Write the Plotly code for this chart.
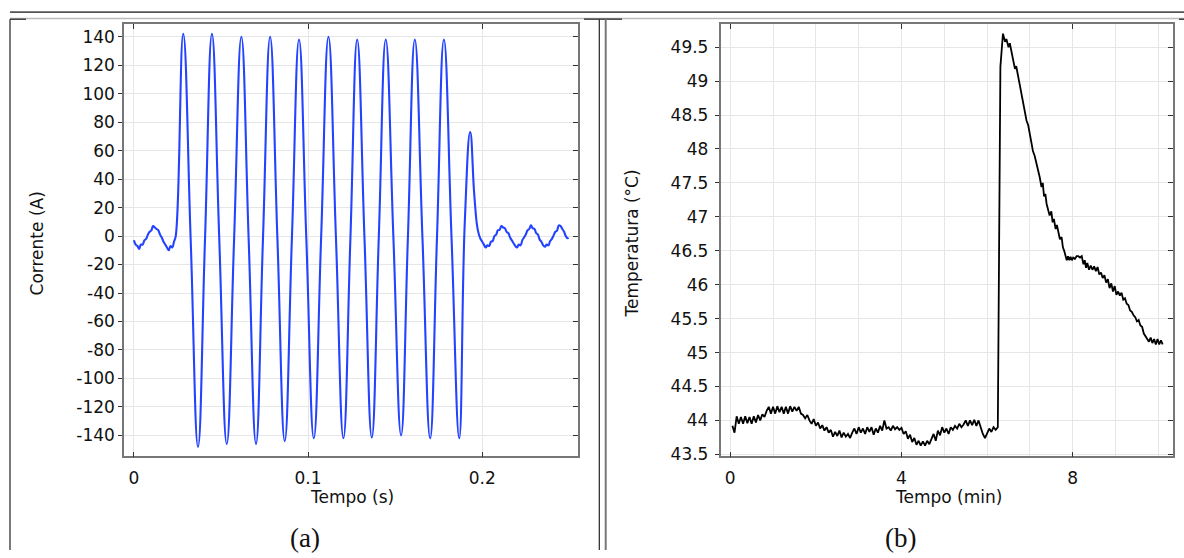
import plotly.graph_objects as go

W, H = 1184, 558

# ---------------- (a) current ----------------
cur_t = [0.000, 0.001, 0.002, 0.003, 0.004, 0.005, 0.006, 0.007, 0.008, 0.009, 0.010, 0.011,
         0.012, 0.013, 0.014, 0.015, 0.016, 0.017, 0.018, 0.019, 0.020, 0.021, 0.022, 0.023,
         0.0240,
         0.0283, 0.0326, 0.0368, 0.0408, 0.0448, 0.0490, 0.0533, 0.0575, 0.0617, 0.0659, 0.0701,
         0.0741, 0.0782, 0.0824, 0.0866, 0.0907, 0.0948, 0.0990, 0.1033, 0.1075, 0.1117, 0.1160,
         0.1203, 0.1243, 0.1282, 0.1324, 0.1366, 0.1406, 0.1446, 0.1490, 0.1534, 0.1573, 0.1613,
         0.1657, 0.1701, 0.1740, 0.1780, 0.1824, 0.1868, 0.1900, 0.1931, 0.1955, 0.1975,
         0.199, 0.200, 0.201, 0.202, 0.203, 0.204, 0.205, 0.206, 0.207, 0.208, 0.209, 0.210,
         0.211, 0.212, 0.213, 0.214, 0.215, 0.216, 0.217, 0.218, 0.219, 0.220, 0.221, 0.222,
         0.223, 0.224, 0.225, 0.226, 0.227, 0.228, 0.229, 0.230, 0.231, 0.232, 0.233, 0.234,
         0.235, 0.236, 0.237, 0.238, 0.239, 0.240, 0.241, 0.242, 0.243, 0.244, 0.245, 0.246,
         0.247, 0.248, 0.249, 0.2496]
cur_v = [-3, -6, -7, -9, -6, -6, -3, -2, 1, 3, 4, 7,
         6, 5, 4, 1, -1, -4, -6, -8, -10, -7, -8, -4,
         0,
         142, -3, -148, -3, 142, -2, -146, -3, 140, -3, -146,
         -2, 140, -2, -144, -2, 138, -2, -142, -1, 140, -1,
         -142, -2, 138, -2, -141.5, -1, 138, -1, -140, -2, 138,
         -2, -142, -2, 138, -2, -142, 10, 73, 28, 4,
         -2, -4, -6, -8, -6.5, -7, -4, -3.5, 0, 1, 4, 4.5,
         7, 6, 5.5, 3, 2, -1, -3, -5, -7, -8, -6, -6.5,
         -3, -1, 1, 4, 5, 7.5, 5.5, 5, 2, 1, -2.5, -4,
         -6.5, -7.5, -6, -6.5, -3.5, -2, 0.5, 3, 4, 7.5, 7, 5,
         3, 0, -1.5, -1.2]

cur_tickvals = [140, 120, 100, 80, 60, 40, 20, 0, -20, -40, -60, -80, -100, -120, -140]
cur_ticktext = ["140", "120", "100", "80", "60", "40", "20", "0", "-20", "-40", "-60", "-80",
                "-100", "-120", "-140"]

# ---------------- (b) temperature ----------------
base_v = [43.92, 43.82, 44.06, 43.95, 44.05, 43.95, 44.06, 43.96, 44.05, 43.95,
          44.06, 43.97, 44.08, 44.00, 44.09, 44.05, 44.14, 44.20, 44.10, 44.20,
          44.10, 44.21, 44.12, 44.20, 44.10, 44.20, 44.10, 44.21, 44.13, 44.20,
          44.14, 44.20, 44.10, 44.08, 44.03, 44.08, 44.00, 43.95, 44.02, 43.92,
          43.97, 43.88, 43.93, 43.85, 43.90, 43.82, 43.86, 43.76, 43.83, 43.77,
          43.85, 43.75, 43.82, 43.76, 43.80, 43.74, 43.82, 43.88, 43.80, 43.90,
          43.82, 43.88, 43.80, 43.90, 43.83, 43.90, 43.79, 43.88, 43.82, 43.92,
          43.85, 44.00, 43.88, 43.90, 43.85, 43.92, 43.87, 43.90, 43.86, 43.89,
          43.80, 43.84, 43.73, 43.79, 43.68, 43.74, 43.64, 43.70, 43.63, 43.69,
          43.63, 43.70, 43.65, 43.72, 43.80, 43.70, 43.85, 43.78, 43.90, 43.82,
          43.88, 43.80, 43.90, 43.86, 43.92, 43.88, 43.95, 43.90, 43.94, 44.00,
          43.92, 44.00, 43.93, 44.01, 43.92, 44.00, 43.90, 43.80, 43.74, 43.82,
          43.88, 43.83, 43.90, 43.86, 43.90]
base_t = [round(0.05 * (i + 1), 2) for i in range(len(base_v))]

decay_t = [6.31, 6.37, 6.42, 6.45, 6.50, 6.53, 6.58, 6.62, 6.65, 6.68, 6.72, 6.76, 6.80, 6.84,
           6.88, 6.92, 6.96, 7.00, 7.04, 7.07, 7.11, 7.15, 7.19, 7.23, 7.27, 7.30, 7.33, 7.36,
           7.39, 7.43, 7.46, 7.50, 7.53, 7.56, 7.60, 7.63, 7.67, 7.70, 7.74, 7.77, 7.80, 7.83,
           7.86, 7.89, 7.92, 7.95, 7.98, 8.01, 8.05, 8.09, 8.13, 8.17, 8.21, 8.25, 8.28, 8.31,
           8.34, 8.38, 8.42, 8.46, 8.50, 8.54, 8.58, 8.62, 8.66, 8.70, 8.74, 8.78, 8.82, 8.86,
           8.90, 8.94, 8.98, 9.02, 9.06, 9.10, 9.14, 9.18, 9.22, 9.26, 9.30, 9.34, 9.38, 9.42,
           9.46, 9.50, 9.54, 9.58, 9.62, 9.66, 9.70, 9.74, 9.78, 9.82, 9.86, 9.90, 9.94, 9.98,
           10.02, 10.06, 10.10]
decay_v = [49.21, 49.70, 49.58, 49.62, 49.50, 49.56, 49.40, 49.30, 49.18, 49.22, 49.09, 48.98,
           48.85, 48.70, 48.58, 48.42, 48.35, 48.21, 48.10, 47.97, 47.90, 47.80, 47.70, 47.58,
           47.44, 47.50, 47.30, 47.34, 47.19, 47.10, 47.02, 47.08, 46.92, 46.97, 46.82, 46.88,
           46.74, 46.67, 46.70, 46.55, 46.50, 46.42, 46.36, 46.42, 46.36, 46.41, 46.36, 46.40,
           46.38, 46.42, 46.42, 46.40, 46.42, 46.30, 46.36, 46.25, 46.32, 46.22, 46.28, 46.22,
           46.27, 46.20, 46.26, 46.15, 46.18, 46.10, 46.14, 46.03, 46.08, 45.95, 46.02, 45.90,
           45.98, 45.85, 45.90, 45.84, 45.88, 45.78, 45.80, 45.72, 45.70, 45.62, 45.60, 45.55,
           45.52, 45.46, 45.48, 45.40, 45.38, 45.28, 45.24, 45.22, 45.16, 45.22, 45.14, 45.20,
           45.12, 45.20, 45.12, 45.18, 45.12]

temp_t = base_t + decay_t
temp_v = base_v + decay_v

# ---------------- layout helpers ----------------
def px(x):
    return x / W

def py(y):
    return 1 - y / H

FONT = "DejaVu Sans"
AXC = "#777777"
TICKC = "#333333"
GRIDC = "#e6e6e6"

xa_dom = [px(124), px(578)]
xb_dom = [px(720.6), px(1172.5)]
y_dom = [py(463), py(24.5)]

xa_rng = [-0.0057, 0.255]
ya_rng = [-154.7, 148.8]
xb_rng = [-0.225, 10.33]
yb_rng = [43.47, 49.84]

fig = go.Figure()
fig.add_trace(go.Scatter(x=cur_t, y=cur_v, mode="lines", xaxis="x", yaxis="y",
                         line=dict(color="#2343ff", width=2.1, shape="spline", smoothing=1.3),
                         hoverinfo="skip", showlegend=False))
fig.add_trace(go.Scatter(x=temp_t, y=temp_v, mode="lines", xaxis="x2", yaxis="y2",
                         line=dict(color="#000000", width=1.8),
                         hoverinfo="skip", showlegend=False))
# carriers for mirrored (inside) tick axes
for xa, ya in (("x3", "y3"), ("x4", "y4")):
    fig.add_trace(go.Scatter(x=[None], y=[None], xaxis=xa, yaxis=ya, mode="lines",
                             hoverinfo="skip", showlegend=False))

tickfont = dict(family=FONT, size=17, color="#111111")

common_x = dict(showline=True, linecolor=AXC, linewidth=1.5, mirror=True, ticks="inside",
                ticklen=5, tickcolor=TICKC, tickwidth=1.2, tickfont=tickfont,
                ticklabelstandoff=5,
                showgrid=True, gridcolor=GRIDC, gridwidth=1, zeroline=False, fixedrange=True)
common_y = dict(showline=True, linecolor=AXC, linewidth=1.5, mirror=True, ticks="outside",
                ticklen=4, tickcolor=TICKC, tickwidth=1.2, tickfont=tickfont,
                showgrid=True, gridcolor=GRIDC, gridwidth=1, zeroline=False, fixedrange=True)
over = dict(showline=False, ticks="inside", ticklen=5, tickcolor=TICKC, tickwidth=1.2,
            showticklabels=False, showgrid=False, zeroline=False, fixedrange=True)

fig.update_layout(
    width=W, height=H, margin=dict(l=0, r=0, t=0, b=0),
    paper_bgcolor="white", plot_bgcolor="white",
    xaxis=dict(common_x, domain=xa_dom, range=xa_rng, anchor="y", tickmode="linear",
               tick0=0, dtick=0.1),
    yaxis=dict(common_y, domain=y_dom, range=ya_rng, anchor="x", tickmode="array",
               tickvals=cur_tickvals, ticktext=cur_ticktext),
    xaxis3=dict(over, overlaying="x", anchor="y", side="top", range=xa_rng,
                tickmode="linear", tick0=0, dtick=0.1),
    yaxis3=dict(over, overlaying="y", anchor="x", side="right", range=ya_rng,
                tickmode="array", tickvals=cur_tickvals),
    xaxis2=dict(common_x, domain=xb_dom, range=xb_rng, anchor="y2", tickmode="linear",
                tick0=0, dtick=4,
                minor=dict(tickmode="linear", tick0=0, dtick=1, showgrid=True,
                           gridcolor=GRIDC, gridwidth=1, ticks="")),
    yaxis2=dict(common_y, domain=y_dom, range=yb_rng, anchor="x2", tickmode="linear",
                tick0=43.5, dtick=0.5, ticklabelstandoff=3),
    xaxis4=dict(over, overlaying="x2", anchor="y2", side="top", range=xb_rng,
                tickmode="linear", tick0=0, dtick=4),
    yaxis4=dict(over, overlaying="y2", anchor="x2", side="right", range=yb_rng,
                tickmode="linear", tick0=43.5, dtick=0.5),
)

titlefont = dict(family=FONT, size=17, color="#111111")
capfont = dict(family="Liberation Serif", size=27, color="#111111")
ann = [
    dict(text="Tempo (s)", x=px(352), y=py(504)),
    dict(text="Tempo (min)", x=px(948.5), y=py(504)),
    dict(text="Corrente (A)", x=px(37), y=py(247), textangle=-90),
    dict(text="Temperatura (°C)", x=px(632), y=py(247), textangle=-90),
]
for a in ann:
    fig.add_annotation(xref="paper", yref="paper", showarrow=False, font=titlefont,
                       xanchor="center", yanchor="middle", **a)
for txt, xc in (("(a)", 304.5), ("(b)", 900.5)):
    fig.add_annotation(text=txt, xref="paper", yref="paper", x=px(xc), y=py(546),
                       showarrow=False, font=capfont, xanchor="center", yanchor="middle")

# table frame
frame = [
    (10, 12.3, 1184, 12.3, "#555555", 1.6),
    (10, 18.7, 1184, 18.7, "#bbbbbb", 1.4),
    (10, 19.5, 26, 19.5, "#222222", 1.2),
    (584, 19.5, 622, 19.5, "#222222", 1.2),
    (1179, 19.5, 1184, 19.5, "#222222", 1.2),
    (10, 19.5, 10, 558, "#222222", 1.2),
    (599.3, 19.5, 599.3, 558, "#222222", 1.2),
    (605.7, 19.5, 605.7, 558, "#777777", 2.0),
]
for x0, y0, x1, y1, c, w in frame:
    fig.add_shape(type="line", xref="paper", yref="paper", x0=px(x0), y0=py(y0),
                  x1=px(x1), y1=py(y1), line=dict(color=c, width=w))

fig.write_html("out.html", config={"displayModeBar": False},
               post_script="document.body.style.margin='0';document.body.style.overflow='hidden';")
